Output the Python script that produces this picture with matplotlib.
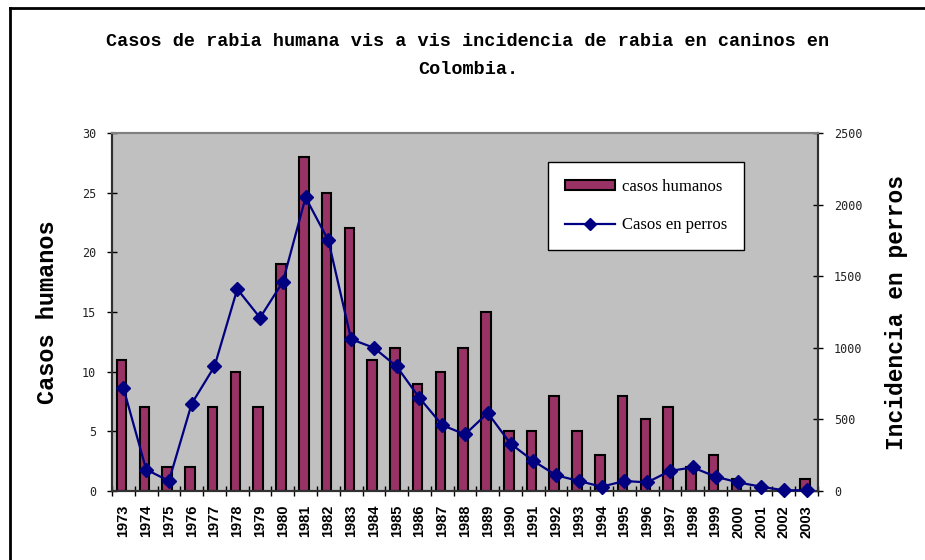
import matplotlib
matplotlib.use("Agg")
import matplotlib.pyplot as plt
import numpy as np
from matplotlib.lines import Line2D
from matplotlib.patches import Patch

years = [str(y) for y in range(1973, 2004)]
casos_humanos = [11, 7, 2, 2, 7, 10, 7, 19, 28, 25, 22, 11, 12, 9, 10, 12, 15,
                 5, 5, 8, 5, 3, 8, 6, 7, 2, 3, 1, 0, 0, 1]
casos_perros = [720, 150, 70, 610, 870, 1410, 1210, 1460, 2050, 1750, 1060, 1000,
                870, 650, 460, 395, 545, 330, 210, 110, 70, 30, 70, 60, 140, 165,
                100, 60, 30, 5, 5]
left_ticks = [0, 5, 10, 15, 20, 25, 30]
right_ticks = [0, 500, 1000, 1500, 2000, 2500]

W, H = 925, 560
fig = plt.figure(figsize=(W / 100, H / 100), dpi=100)
fig.patch.set_facecolor("white")

ax = fig.add_axes([112 / W, 1 - 491 / H, (818 - 112) / W, (491 - 133) / H])
ax.set_facecolor("#C0C0C0")
x = np.arange(len(years))

ax.bar(x - 0.08, casos_humanos, width=0.42, color="#993366",
       edgecolor="black", linewidth=1.5, zorder=2)
ax.set_xlim(-0.5, len(years) - 0.5)
ax.set_ylim(0, 30)
ax.set_yticks(left_ticks)
ax.set_yticklabels([str(t) for t in left_ticks], fontfamily="DejaVu Sans Mono",
                   fontsize=8.5, color="#222222")
ax.set_xticks(x)
ax.set_xticklabels(years, rotation=90, fontfamily="Liberation Sans",
                   fontweight="bold", fontsize=10.5)
ax.set_xticks(np.arange(-0.5, len(years), 1.0), minor=True)
ax.tick_params(axis="x", which="major", length=0, pad=10)
ax.tick_params(axis="x", which="minor", direction="inout", length=7, width=1.0)
ax.tick_params(axis="y", direction="inout", length=7, width=1.0, pad=8)

ax2 = ax.twinx()
ax2.plot(x, casos_perros, color="#000080", linewidth=1.6, marker="D",
         markersize=7.2, markerfacecolor="#000080", markeredgecolor="#000080",
         zorder=3, clip_on=False)
ax2.set_ylim(0, 2500)
ax2.set_yticks(right_ticks)
ax2.set_yticklabels([str(t) for t in right_ticks], fontfamily="DejaVu Sans Mono",
                    fontsize=8.5, color="#222222")
ax2.tick_params(axis="y", direction="inout", length=7, width=1.0, pad=8)

for a in (ax, ax2):
    a.spines["top"].set_color("#808080")
    a.spines["top"].set_linewidth(1.5)
    for s in ("left", "right", "bottom"):
        a.spines[s].set_color("#303030")
        a.spines[s].set_linewidth(1.5)

ax.set_ylabel("Casos humanos", fontfamily="Liberation Mono", fontweight="bold",
              fontsize=17)
ax.yaxis.set_label_coords((59 - 112) / (818 - 112), 0.5)
ax2.set_ylabel("Incidencia en perros", fontfamily="Liberation Mono",
               fontweight="bold", fontsize=16.5, rotation=90)
ax2.yaxis.set_label_coords((885 - 112) / (818 - 112), 0.5)

fig.text(468 / W, 1 - 42 / H,
         "Casos de rabia humana vis a vis incidencia de rabia en caninos en",
         ha="center", va="center", fontfamily="Liberation Mono",
         fontweight="bold", fontsize=13.3)
fig.text(468 / W, 1 - 70 / H, "Colombia.", ha="center", va="center",
         fontfamily="Liberation Mono", fontweight="bold", fontsize=13.3)

handles = [Patch(facecolor="#993366", edgecolor="black", linewidth=1.5),
           Line2D([0], [0], color="#000080", linewidth=1.6, marker="D",
                  markersize=6, markerfacecolor="#000080")]
leg = ax2.legend(handles, ["casos humanos", "Casos en perros"],
                 loc="upper left", bbox_to_anchor=(548 / W, 1 - 162 / H),
                 bbox_transform=fig.transFigure, frameon=True, fancybox=False,
                 edgecolor="black", facecolor="white", framealpha=1,
                 prop={"family": "Liberation Serif", "size": 12},
                 handlelength=3.0, handleheight=0.5, handletextpad=0.45,
                 labelspacing=1.35, borderpad=1.0, borderaxespad=0)
leg.get_frame().set_linewidth(1.0)

# outer chart border
fig.add_artist(Line2D([10 / W, 10 / W], [0, 1 - 8 / H], color="black",
                      linewidth=2, transform=fig.transFigure))
fig.add_artist(Line2D([10 / W, 1], [1 - 8 / H, 1 - 8 / H], color="black",
                      linewidth=2, transform=fig.transFigure))

fig.savefig("out.png", dpi=100)
